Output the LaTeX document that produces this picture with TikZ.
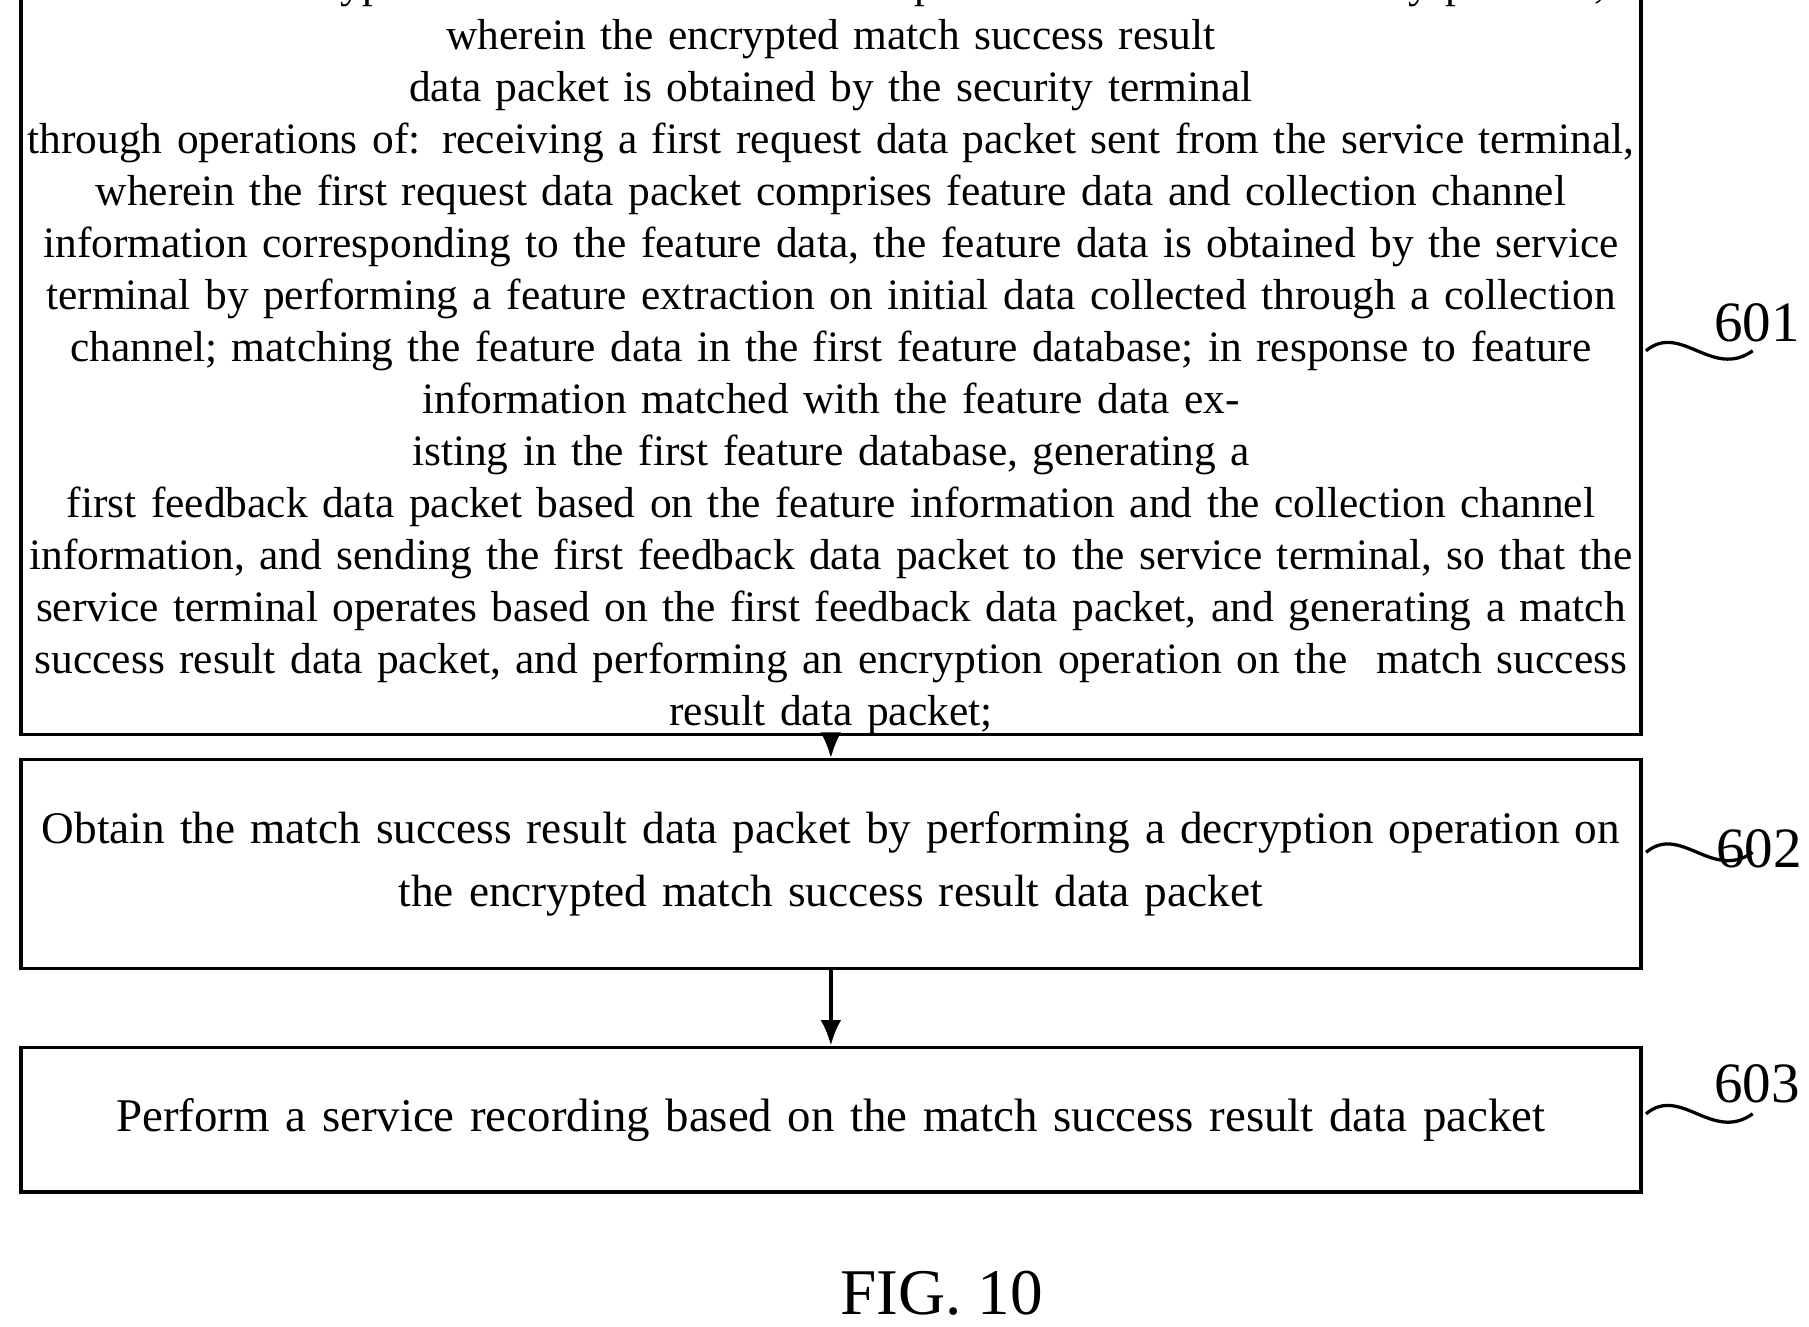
\documentclass[tikz,border=0pt]{standalone}
\usepackage{fontspec}
\setmainfont{Liberation Serif}
\usetikzlibrary{arrows.meta, positioning, calc}

\tikzset{
  stepbox/.style={draw, thick, text width=13.97cm, align=center, inner sep=0pt},
  tag/.style={font=\fontsize{14}{16}\selectfont},
  flow/.style={-{Latex[length=2.2mm,width=1.8mm]}, thick},
  squig/.style={thick}
}

\begin{document}
\begin{tikzpicture}

% Canvas
\useasboundingbox (0,0) rectangle (15.6,-11.44);

% Steps
\node[stepbox, minimum height=5.69cm, font=\fontsize{10.65}{12.75}\selectfont] (s601) at (7.165,-3.025) {%
Receive an encrypted match success result data packet sent from the security platform,\\
wherein the encrypted match success result data packet is obtained by the security terminal\\
through operations of: receiving a first request data packet sent from the service terminal,\\
wherein the first request data packet comprises feature data and collection channel\\
information corresponding to the feature data, the feature data is obtained by the service\\
terminal by performing a feature extraction on initial data collected through a collection\\
channel; matching the feature data in the first feature database; in response to feature\\
information matched with the feature data existing in the first feature database, generating a\\
first feedback data packet based on the feature information and the collection channel\\
information, and sending the first feedback data packet to the service terminal, so that the\\
service terminal operates based on the first feedback data packet, and generating a match\\
success result data packet, and performing an encryption operation on the \ match success\\
result data packet;};

\node[stepbox, minimum height=1.8cm, font=\fontsize{11.1}{15.6}\selectfont] (s602) at (7.165,-7.45) {%
Obtain the match success result data packet by performing a decryption operation on\\
the encrypted match success result data packet};

\node[stepbox, minimum height=1.25cm, font=\fontsize{11.5}{15.6}\selectfont] (s603) at (7.165,-9.655) {%
Perform a service recording based on the match success result data packet};

% Arrows
\draw[flow] (s601) -- (s602);
\draw[flow] (s602) -- (s603);

% Step labels
\node[tag] (l601) at (15.15,-2.78) {601};
\node[tag] (l602) at (15.17,-7.32) {602};
\node[tag] (l603) at (15.15,-9.35) {603};

\coordinate (c601) at ($(s601.east)+(0.03,0)$);
\coordinate (c602) at ($(s602.east)+(0.03,0.1)$);
\coordinate (c603) at ($(s603.east)+(0.03,0.05)$);
\foreach \n in {601,602,603}
  \draw[squig] (c\n) .. controls +(0.3,0.25) and +(-0.35,-0.25) .. ++(0.92,0);
% Caption
\node[font=\fontsize{16}{18}\selectfont] (cap) at (8.12,-11.15) {FIG. 10};

\end{tikzpicture}
\end{document}
